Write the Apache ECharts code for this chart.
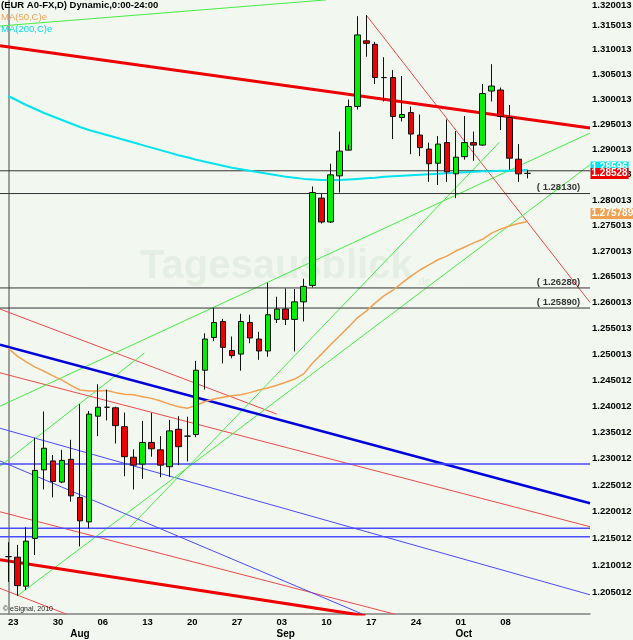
<!DOCTYPE html>
<html>
<head>
<meta charset="utf-8">
<script src="https://cdn.jsdelivr.net/npm/echarts@6/dist/echarts.min.js"></script>
<style>
  html, body { margin: 0; padding: 0; background: #f2f8f0; }
  #chart { width: 633px; height: 640px; }
</style>
</head>
<body>
<div id="chart"></div>
<script>
// daily candles, index 0 = first day on screen
var opens  = [1.2116, 1.2115, 1.2061, 1.2150, 1.2279, 1.2296, 1.2256, 1.2299, 1.2227, 1.2181,
              1.2381, 1.2398, 1.2397, 1.2361, 1.2303, 1.2290, 1.2331, 1.2317, 1.2285, 1.2356,
              1.2343, 1.2346, 1.2469, 1.2532, 1.2563, 1.2507, 1.2500, 1.2561, 1.2529, 1.2506,
              1.2567, 1.2587, 1.2567, 1.2601, 1.2633, 1.2804, 1.2757, 1.2848, 1.2899, 1.2986,
              1.3118, 1.3111, 1.3044, 1.3044, 1.2964, 1.2974, 1.2929, 1.2901, 1.2873, 1.2914,
              1.2852, 1.2886, 1.2914, 1.2909, 1.3017, 1.3019, 1.2964, 1.2881, 1.2853];
var closes = [1.2116, 1.2062, 1.2145, 1.2278, 1.2320, 1.2257, 1.2297, 1.2230, 1.2183, 1.2385,
              1.2398, 1.2398, 1.2363, 1.2304, 1.2288, 1.2331, 1.2319, 1.2288, 1.2353, 1.2323,
              1.2343, 1.2469, 1.2529, 1.2561, 1.2513, 1.2497, 1.2563, 1.2531, 1.2506, 1.2576,
              1.2587, 1.2567, 1.2601, 1.2631, 1.2815, 1.2757, 1.2850, 1.2897, 1.2986, 1.3130,
              1.3113, 1.3044, 1.3044, 1.2966, 1.2970, 1.2931, 1.2904, 1.2872, 1.2911, 1.2856,
              1.2885, 1.2914, 1.2909, 1.3012, 1.3027, 1.2966, 1.2883, 1.2852, 1.28528];
var lows   = [1.2069, 1.2043, 1.2054, 1.2119, 1.2242, 1.2227, 1.2254, 1.2219, 1.2135, 1.2169,
              1.2343, 1.2373, 1.2329, 1.2267, 1.2242, 1.2262, 1.2304, 1.2265, 1.2266, 1.2288,
              1.2295, 1.2341, 1.2432, 1.2525, 1.2482, 1.2492, 1.2468, 1.2521, 1.2489, 1.2495,
              1.2560, 1.2556, 1.2505, 1.2563, 1.2629, 1.2754, 1.2755, 1.2815, 1.2910, 1.2980,
              1.3086, 1.3031, 1.2996, 1.2921, 1.2956, 1.2891, 1.2887, 1.2836, 1.2830, 1.2836,
              1.2804, 1.2880, 1.2878, 1.2908, 1.2996, 1.2939, 1.2860, 1.2836, 1.2843];
var highs  = [1.2143, 1.2138, 1.2171, 1.2340, 1.2390, 1.2307, 1.2317, 1.2336, 1.2404, 1.2391,
              1.2442, 1.2432, 1.2399, 1.2388, 1.2318, 1.2372, 1.2387, 1.2343, 1.2374, 1.2381,
              1.2380, 1.2487, 1.2540, 1.2589, 1.2568, 1.2534, 1.2578, 1.2576, 1.2543, 1.2638,
              1.2611, 1.2627, 1.2626, 1.2646, 1.2827, 1.2813, 1.2872, 1.2936, 1.3000, 1.3168,
              1.3170, 1.3116, 1.3085, 1.3059, 1.3047, 1.2986, 1.2970, 1.2914, 1.2927, 1.2960,
              1.2937, 1.2967, 1.2936, 1.3031, 1.3071, 1.3024, 1.2989, 1.2911, 1.2860];

var ma50  = [1.2511, 1.2496, 1.2485, 1.2475, 1.2467, 1.2458, 1.2450, 1.2440, 1.2431, 1.2429,
             1.2429, 1.2430, 1.2426, 1.2423, 1.2422, 1.2418, 1.2415, 1.2410, 1.2404, 1.2399,
             1.2396, 1.2402, 1.2409, 1.2414, 1.2417, 1.2420, 1.2422, 1.2426, 1.2431, 1.2435,
             1.2440, 1.2446, 1.2452, 1.2462, 1.2483, 1.2500, 1.2518, 1.2535, 1.2552, 1.2570,
             1.2583, 1.2599, 1.2613, 1.2624, 1.2638, 1.2651, 1.2663, 1.2673, 1.2683, 1.2690,
             1.2700, 1.2708, 1.2716, 1.2723, 1.2735, 1.2743, 1.2749, 1.2754, 1.275789];
var ma200 = [1.3007, 1.2998, 1.2989, 1.2981, 1.2973, 1.2966, 1.2959, 1.2952, 1.2945, 1.2939,
             1.2934, 1.2929, 1.2924, 1.2919, 1.2914, 1.2909, 1.2904, 1.2899, 1.2894, 1.2889,
             1.2885, 1.2880, 1.2876, 1.2872, 1.2868, 1.2864, 1.2861, 1.2858, 1.2855, 1.2852,
             1.2849, 1.2846, 1.2844, 1.2842, 1.2841, 1.2840, 1.2840, 1.2840, 1.2841, 1.2842,
             1.2843, 1.2844, 1.2846, 1.2847, 1.2848, 1.2849, 1.2850, 1.2851, 1.2852, 1.2853,
             1.2854, 1.2855, 1.2856, 1.2857, 1.2857, 1.2858, 1.2858, 1.2859, 1.28596];

// axis labels
var dayPos    = [0.56, 5.56, 10.56, 15.56, 20.56, 25.56, 30.56, 35.56, 40.56, 45.56, 50.56, 55.56];
var dayText   = ['23', '30', '06', '13', '20', '27', '03', '10', '17', '24', '01', '08'];
var monthPos  = [8.0, 31.0, 50.9];
var monthText = ['Aug', 'Sep', 'Oct'];
var priceTicks = [1.205012, 1.210012, 1.215012, 1.220012, 1.225012, 1.230012, 1.235012, 1.240012,
                  1.245012, 1.250013, 1.255013, 1.260013, 1.265013, 1.270013, 1.275013, 1.280013,
                  1.285013, 1.290013, 1.295013, 1.300013, 1.305013, 1.310013, 1.315013, 1.320013];

// horizontal levels
var blackLevels = [1.2858, 1.2813, 1.2628, 1.2589];
var blackTexts  = ['', '( 1.28130)', '( 1.26280)', '( 1.25890)'];
var blueLevels  = [1.2290, 1.2169, 1.2153];

// trend lines as [[index, price], [index, price]]
var redThick  = [[[-0.93, 1.3108], [65, 1.2943]], [[-0.93, 1.2110], [39.9, 1.2006]]];
var redThin   = [[[40, 1.3170], [65, 1.2600]], [[-0.93, 1.2587], [30, 1.2385]],
                 [[-0.93, 1.2464], [65, 1.2172]], [[-0.93, 1.2200], [43.2, 1.2009]],
                 [[-0.93, 1.2057], [6.5, 1.2009]]];
var blueThick = [[[-0.93, 1.2518], [65, 1.2216]]];
var blueThin  = [[[-0.93, 1.2358], [65, 1.2045]], [[-0.93, 1.2296], [39.6, 1.2009]]];
var greenThin = [[[-0.93, 1.3148], [35.5, 1.3201]], [[-0.93, 1.2400], [65, 1.2933]],
                 [[-0.93, 1.2286], [15.2, 1.2502]], [[1, 1.2043], [65, 1.2870]],
                 [[13.6, 1.2171], [54.9, 1.2915]]];

var FONT = 'Liberation Sans';
var X0 = -0.93, X1 = 65, LABEL_X = 63.9;
var chart = echarts.init(document.getElementById('chart'));

function seg(pts, color, width) {
  return {
    type: 'line', data: pts, symbol: 'none', silent: true, z: 2,
    lineStyle: { color: color, width: width }
  };
}
function valueBox(v, text, bg, dy) {
  return {
    coord: [X1, v], symbol: 'rect', symbolSize: 1, itemStyle: { color: 'rgba(0,0,0,0)' },
    label: {
      show: true, position: 'right', distance: 0, formatter: text, offset: [0, dy],
      color: '#fff', backgroundColor: bg, fontWeight: 'bold', fontSize: 10,
      fontFamily: FONT, padding: [1, 1, 0, 1]
    }
  };
}

var series = [];
redThin.forEach(function (p) { series.push(seg(p, '#f04848', 1)); });
blueThin.forEach(function (p) { series.push(seg(p, '#4a4aff', 1)); });
greenThin.forEach(function (p) { series.push(seg(p, '#44ee44', 1)); });
redThick.forEach(function (p) { series.push(seg(p, '#ee0000', 3)); });
blueThick.forEach(function (p) { series.push(seg(p, '#0000dd', 2.5)); });
blackLevels.forEach(function (v) { series.push(seg([[X0, v], [X1, v]], '#333333', 1)); });
blueLevels.forEach(function (v) { series.push(seg([[X0, v], [X1, v]], '#4a4aff', 1.5)); });

// level captions sit just above their lines, right aligned
series.push({
  type: 'scatter', silent: true, z: 5, symbolSize: 0,
  data: blackLevels.map(function (v, i) {
    return { value: [LABEL_X, v], label: { show: !!blackTexts[i], formatter: blackTexts[i] } };
  }),
  label: {
    position: 'top', align: 'right', distance: 1,
    color: '#000', fontWeight: 'bold', fontSize: 9.5, fontFamily: FONT
  }
});

series.push({
  type: 'line', name: 'MA(50,C)e', symbol: 'none', silent: true, z: 3,
  data: ma50.map(function (v, i) { return [i, v]; }),
  lineStyle: { color: '#f4a050', width: 1.5 },
  markPoint: { silent: true, animation: false, data: [valueBox(ma50[ma50.length - 1], '1.275789', '#f0a050', -8)] }
});
series.push({
  type: 'line', name: 'MA(200,C)e', symbol: 'none', silent: true, z: 3,
  data: ma200.map(function (v, i) { return [i, v]; }),
  lineStyle: { color: '#00e4ee', width: 2 },
  markPoint: {
    silent: true, animation: false,
    data: [
      valueBox(ma200[ma200.length - 1], '1.28596', '#00e4ee', -3),
      valueBox(closes[closes.length - 1], '1.28528', '#ee0000', 0)
    ]
  }
});
series.push({
  type: 'candlestick', z: 4, barWidth: 6, silent: true,
  data: opens.map(function (o, i) { return [i, o, closes[i], lows[i], highs[i]]; }),
  itemStyle: {
    color: '#00ee00', color0: '#ee0000',
    borderColor: '#111', borderColor0: '#111', borderColorDoji: '#111', borderWidth: 1
  }
});

chart.setOption({
  animation: false,
  backgroundColor: '#f2f8f0',
  title: [
    { text: 'Tagesausblick', left: 140, top: 247, padding: 0, z: 0,
      textStyle: { fontSize: 40, fontWeight: 'bold', color: '#e5eee3', fontFamily: FONT } },
    { text: '.de', left: 416, top: 277, padding: 0, z: 0,
      textStyle: { fontSize: 10, fontWeight: 'bold', color: '#e5eee3', fontFamily: FONT } },
    { text: '(EUR A0-FX,D) Dynamic,0:00-24:00', left: 1, top: 0, padding: 0,
      textStyle: { fontSize: 9.5, fontWeight: 'bold', color: '#000', fontFamily: FONT } },
    { text: 'MA(50,C)e', left: 1, top: 12, padding: 0,
      textStyle: { fontSize: 9.5, fontWeight: 'normal', color: '#f4a050', fontFamily: FONT } },
    { text: 'MA(200,C)e', left: 1, top: 24, padding: 0,
      textStyle: { fontSize: 9.5, fontWeight: 'normal', color: '#00dcee', fontFamily: FONT } },
    { text: '\u00a9 eSignal, 2010', left: 3, top: 606, padding: 0,
      textStyle: { fontSize: 7, fontWeight: 'normal', color: '#222', fontFamily: FONT } }
  ],
  grid: { left: 0, right: 43, top: 0, bottom: 26, containLabel: false, outerBoundsMode: 'none' },
  xAxis: [
    {
      type: 'value', min: X0, max: X1,
      axisLine: { show: true, lineStyle: { color: '#808080', width: 1.5 } },
      axisTick: { show: false }, splitLine: { show: false },
      axisLabel: {
        customValues: dayPos, margin: 3, color: '#000', fontWeight: 'bold', fontSize: 9.5, fontFamily: FONT,
        formatter: function (v) { var k = dayPos.indexOf(v); return k < 0 ? '' : dayText[k]; }
      }
    },
    {
      type: 'value', min: X0, max: X1, position: 'bottom',
      axisLine: { show: false }, axisTick: { show: false }, splitLine: { show: false },
      axisLabel: {
        customValues: monthPos, margin: 15, color: '#000', fontWeight: 'bold', fontSize: 10, fontFamily: FONT,
        formatter: function (v) { var k = monthPos.indexOf(v); return k < 0 ? '' : monthText[k]; }
      }
    }
  ],
  yAxis: {
    type: 'log', logBase: 10, min: 1.20094, max: 1.32008, position: 'right',
    axisLine: { show: true, lineStyle: { color: '#808080', width: 1.5 } },
    axisTick: { show: false }, splitLine: { show: false },
    axisLabel: {
      customValues: priceTicks, margin: 2, color: '#000', fontWeight: 'bold', fontSize: 9.5, fontFamily: FONT,
      formatter: function (v) {
        var s = v.toFixed(6);
        return v > 1.319 ? '{t|' + s + '}' : s;
      },
      rich: { t: { padding: [10, 0, 0, 0], color: '#000', fontWeight: 'bold', fontSize: 9.5, fontFamily: FONT } }
    }
  },
  series: series
});
</script>
</body>
</html>
